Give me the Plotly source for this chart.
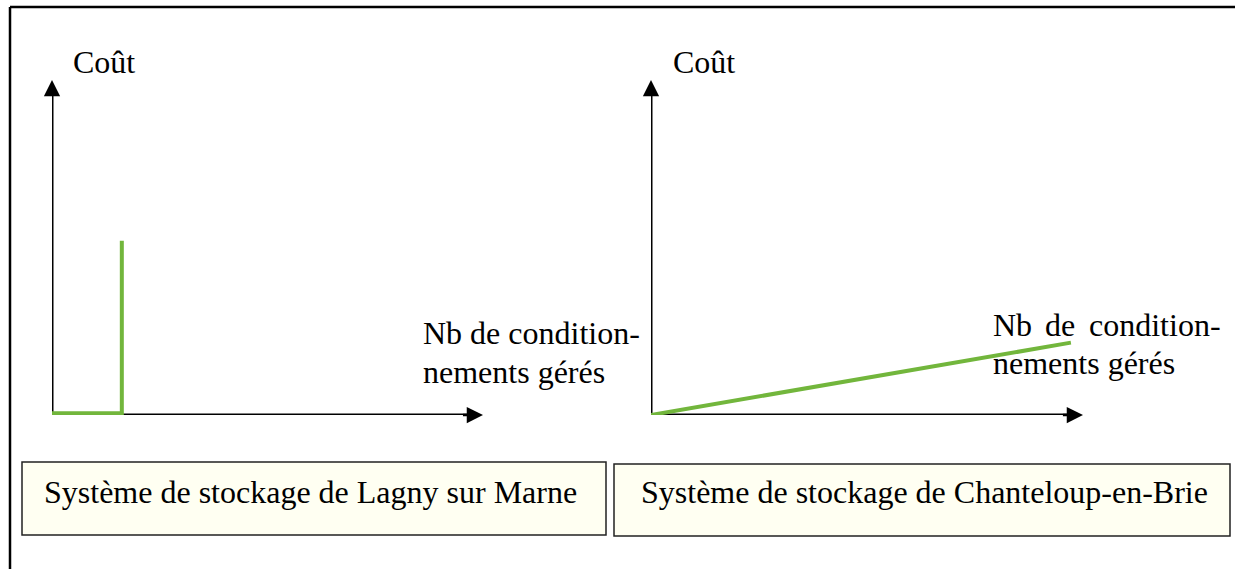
import plotly.graph_objects as go

W, H = 1235, 569

# data (arbitrary units, axes go 0..10)
lagny_x = [0, 1.62, 1.62]
lagny_y = [0.05, 0.05, 5.2]
chanteloup_x = [0, 9.72]
chanteloup_y = [0, 2.16]

y_label = "Coût"
x_label = ["Nb de condition-", "nements gérés"]
titles = ["Système de stockage de Lagny sur Marne",
          "Système de stockage de Chanteloup-en-Brie"]

green = "#72B63C"
font = "Liberation Serif, Times New Roman, serif"
fs = 32


def fx(px):
    return px / W


def fy(py):
    return 1 - py / H


fig = go.Figure()
fig.add_trace(go.Scatter(x=lagny_x, y=lagny_y, mode="lines", xaxis="x", yaxis="y",
                         line=dict(color=green, width=4), showlegend=False, hoverinfo="skip"))
fig.add_trace(go.Scatter(x=chanteloup_x, y=chanteloup_y, mode="lines", xaxis="x2", yaxis="y2",
                         line=dict(color=green, width=4), showlegend=False, hoverinfo="skip"))

ax_style = dict(range=[0, 10], visible=False, showgrid=False, zeroline=False, fixedrange=True)
y_dom = [fy(415), fy(80)]
fig.update_layout(
    width=W, height=H,
    margin=dict(l=0, r=0, t=0, b=0),
    paper_bgcolor="white", plot_bgcolor="rgba(0,0,0,0)",
    xaxis=dict(domain=[fx(52), fx(483)], anchor="y", **ax_style),
    yaxis=dict(domain=y_dom, anchor="x", **ax_style),
    xaxis2=dict(domain=[fx(651), fx(1083)], anchor="y2", **ax_style),
    yaxis2=dict(domain=y_dom, anchor="x2", **ax_style),
)

annotations = []
shapes = []
# axis lines (below the green traces) + arrowheads
for xr, yr in [("x", "y"), ("x2", "y2")]:
    shapes.append(dict(type="line", xref=xr, yref=yr, x0=0, y0=0, x1=9.7, y1=0,
                       line=dict(color="black", width=3), layer="below"))
    shapes.append(dict(type="line", xref=xr, yref=yr, x0=0, y0=0, x1=0, y1=9.6,
                       line=dict(color="black", width=3), layer="below"))
    for tip, base in [((10, 0), (9.5, 0)), ((0, 10), (0, 9.5))]:
        annotations.append(dict(x=tip[0], y=tip[1], ax=base[0], ay=base[1], xref=xr, yref=yr,
                                axref=xr, ayref=yr, text="", showarrow=True,
                                arrowhead=2, arrowwidth=2.5, arrowsize=1.3,
                                arrowcolor="black"))


def label(txt, x, y, anchor="left"):
    annotations.append(dict(text=txt, x=fx(x), y=fy(y), xref="paper", yref="paper",
                            xanchor=anchor, yanchor="middle", showarrow=False,
                            font=dict(family=font, size=fs, color="black")))


# left panel labels
label(y_label, 71, 62)
label(x_label[0], 421, 333)
label(x_label[1], 421, 372)
# right panel labels
label(y_label, 671, 62)
label("Nb", 991, 325)
label("de", 1043, 325)
label("condition-", 1087, 325)
label(x_label[1], 991, 363)

# boxes
boxes = [(22, 462, 606, 535), (614, 464, 1230, 536)]
for (x0, y0, x1, y1), t in zip(boxes, titles):
    shapes.append(dict(type="rect", xref="paper", yref="paper",
                       x0=fx(x0), x1=fx(x1), y0=fy(y1), y1=fy(y0),
                       fillcolor="#FFFFF2", line=dict(color="#222222", width=1.5), layer="below"))
    label(t, x0 + 20 if x0 < 100 else x0 + 25, 492)

# outer frame (top and left edge)
shapes.append(dict(type="line", xref="paper", yref="paper", x0=fx(10), x1=1.0,
                   y0=fy(7), y1=fy(7), line=dict(color="black", width=2.5)))
shapes.append(dict(type="line", xref="paper", yref="paper", x0=fx(10), x1=fx(10),
                   y0=fy(7), y1=0, line=dict(color="black", width=2.5)))

fig.update_layout(annotations=annotations, shapes=shapes)
fig.write_html("out.html", config={"displayModeBar": False},
               post_script="document.body.style.margin='0';")
